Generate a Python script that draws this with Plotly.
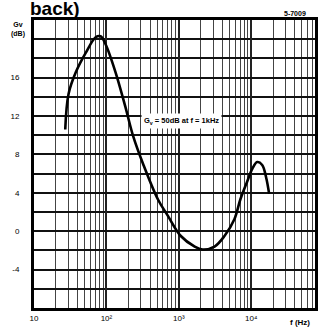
import plotly.graph_objects as go

# Data (frequency in Hz, gain in dB)
freq_hz = [27, 30, 38, 52, 71, 83, 97, 133, 182, 234, 321, 515, 706, 1064, 1656,
           2132, 3114, 4266, 5848, 7063, 8816, 10330, 12080, 14150, 16040, 17650]
gain_db = [10.6, 14.3, 16.6, 18.6, 20.2, 20.3, 19.5, 16.6, 13.0, 9.9, 7.0, 3.3, 1.6,
           -0.5, -1.6, -1.9, -1.6, -0.5, 1.25, 3.3, 5.2, 6.5, 7.2, 6.9, 5.6, 3.9]

x_tick_vals = [10, 100, 1000, 10000]
x_tick_text = ["10", "10²", "10³", "10⁴"]
y_tick_vals = [-4, 0, 4, 8, 12, 16]
y_tick_text = ["-4", "0", "4", "8", "12", "16"]

FONT = "Liberation Sans"

fig = go.Figure()
fig.add_trace(go.Scatter(
    x=freq_hz, y=gain_db, mode="lines",
    line=dict(color="black", width=2.6, shape="spline", smoothing=1.0),
    showlegend=False, hoverinfo="skip"))

fig.update_layout(
    width=318, height=331,
    margin=dict(l=34, r=0, t=20, b=23),
    paper_bgcolor="white", plot_bgcolor="white",
    font=dict(family=FONT, size=8, color="black"),
    xaxis=dict(
        type="log", range=[1, 4.88],
        tickvals=x_tick_vals, ticktext=x_tick_text,
        showgrid=True, gridcolor="#222", gridwidth=1.5,
        minor=dict(showgrid=True, gridcolor="#444", gridwidth=1, dtick="D1"),
        showline=True, linecolor="black", linewidth=3, mirror=True,
        ticks="", tickfont=dict(family=FONT, size=8, color="black"),
        zeroline=False,
    ),
    yaxis=dict(
        range=[-8, 22],
        tickvals=y_tick_vals, ticktext=y_tick_text,
        showgrid=True, gridcolor="#111", gridwidth=2,
        minor=dict(showgrid=True, gridcolor="#111", gridwidth=2, dtick=2, tick0=0),
        showline=True, linecolor="black", linewidth=3, mirror=True,
        ticks="", ticklabelstandoff=10,
        tickfont=dict(family=FONT, size=8, color="black"),
        zeroline=False,
    ),
    annotations=[
        dict(text="<b>back)</b>", xref="paper", yref="paper",
             x=-0.02, y=1.0, xanchor="left", yanchor="bottom", yshift=-1,
             showarrow=False, font=dict(family=FONT, size=19, color="black")),
        dict(text="<b>Gv<br>(dB)</b>", xref="paper", yref="y",
             x=-0.058, y=21.0, xanchor="center", yanchor="middle",
             showarrow=False, font=dict(family=FONT, size=7, color="black")),
        dict(text="<b>5-7009</b>", xref="paper", yref="paper",
             x=0.93, y=1.0, xanchor="center", yanchor="bottom", yshift=1,
             showarrow=False, font=dict(family=FONT, size=7, color="black")),
        dict(text="<b>G<sub>v</sub> = 50dB at f = 1kHz</b>", xref="paper", yref="y",
             x=(142 - 34) / 284, y=11.5, xanchor="left", yanchor="middle",
             showarrow=False, bgcolor="white", borderpad=2,
             font=dict(family=FONT, size=7.5, color="black")),
        dict(text="<b>f (Hz)</b>", xref="paper", yref="paper",
             x=0.945, y=0, xanchor="center", yanchor="top", yshift=-8,
             showarrow=False, font=dict(family=FONT, size=8, color="black")),
    ],
)

fig.write_html("out.html", config={"displayModeBar": False},
               post_script="document.body.style.margin='0';")
